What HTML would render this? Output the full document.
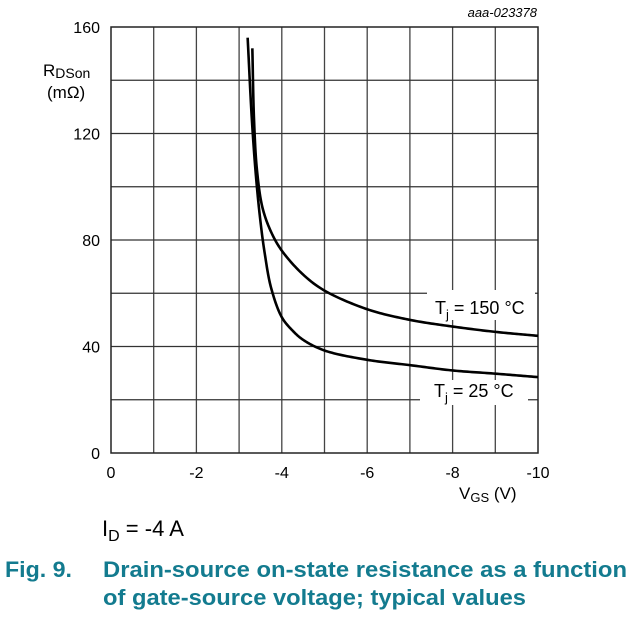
<!DOCTYPE html>
<html><head><meta charset="utf-8"><style>
body{margin:0;background:#fff;width:644px;height:616px;overflow:hidden;font-family:"Liberation Sans",sans-serif}
</style></head><body>
<svg width="644" height="616" font-family="Liberation Sans, sans-serif">
<g id="grid"></g>
<rect x="111" y="27" width="427" height="426" fill="none" stroke="#222" stroke-width="1.5"/>
<g id="ticks"></g>
<rect x="427" y="290" width="108" height="30" fill="#fff"/>
<rect x="420" y="380" width="108" height="25" fill="#fff"/>
<g id="curves"></g>
<text x="435" y="314" font-size="18">T<tspan font-size="13" dy="5">j</tspan><tspan dy="-5"> = 150 °C</tspan></text>
<text x="434" y="397" font-size="18">T<tspan font-size="13" dy="5">j</tspan><tspan dy="-5"> = 25 °C</tspan></text>
<text x="537" y="17" font-size="13" font-style="italic" text-anchor="end">aaa-023378</text>
<text x="43" y="76" font-size="17">R<tspan font-size="14" dy="2">DSon</tspan></text>
<text x="47" y="98" font-size="17">(mΩ)</text>
<text x="459" y="499" font-size="17">V<tspan font-size="13" dy="3">GS</tspan><tspan dy="-3"> (V)</tspan></text>
<text x="102" y="536" font-size="22">I<tspan font-size="16" dy="5">D</tspan><tspan dy="-5"> = -4 A</tspan></text>
<text x="5" y="577" font-size="22" font-weight="bold" fill="#137b8f" textLength="67" lengthAdjust="spacingAndGlyphs">Fig. 9.</text>
<text x="103" y="577" font-size="22" font-weight="bold" fill="#137b8f" textLength="524" lengthAdjust="spacingAndGlyphs">Drain-source on-state resistance as a function</text>
<text x="103" y="605" font-size="22" font-weight="bold" fill="#137b8f" textLength="423" lengthAdjust="spacingAndGlyphs">of gate-source voltage; typical values</text>
</svg>
<script>
const xTicks=[0,-2,-4,-6,-8,-10];
const yTicks=[0,40,80,120,160];
const v150=[-3.31,-3.35,-3.42,-3.55,-3.75,-4,-4.5,-5,-6,-7,-8,-9,-10];
const r150=[152,125,106,92,83,76,67,61,54,50,47.5,45.5,44];
const v25=[-3.2,-3.3,-3.4,-3.5,-3.6,-3.75,-4,-4.25,-4.5,-5,-6,-7,-8,-9,-10];
const r25=[156,125,103,87,75,62,51,46,42.5,38.5,35,33,31,29.8,28.5];
const X0=111,X1=538,Y0=453,Y1=27;
const xs=v=>X0+(v/-10)*(X1-X0);
const ys=r=>Y0-(r/160)*(Y0-Y1);
const NS='http://www.w3.org/2000/svg';
const grid=document.getElementById('grid'),ticks=document.getElementById('ticks'),curves=document.getElementById('curves');
for(let i=1;i<10;i++){const l=document.createElementNS(NS,'line');const x=xs(-i);
l.setAttribute('x1',x);l.setAttribute('x2',x);l.setAttribute('y1',Y1);l.setAttribute('y2',Y0);l.setAttribute('stroke','#444');l.setAttribute('stroke-width','1.3');


grid.appendChild(l);}
for(let i=1;i<8;i++){const l=document.createElementNS(NS,'line');const y=ys(i*20);
l.setAttribute('x1',X0);l.setAttribute('x2',X1);l.setAttribute('y1',y);l.setAttribute('y2',y);l.setAttribute('stroke','#333');l.setAttribute('stroke-width','1.3');


grid.appendChild(l);}
xTicks.forEach(v=>{const t=document.createElementNS(NS,'text');t.setAttribute('x',xs(v));t.setAttribute('y',478);t.setAttribute('font-size','16');t.setAttribute('text-anchor','middle');t.textContent=v;


ticks.appendChild(t);});
yTicks.forEach(v=>{const t=document.createElementNS(NS,'text');t.setAttribute('x',100);t.setAttribute('y',ys(v)+6);t.setAttribute('font-size','16');t.setAttribute('text-anchor','end');t.textContent=v;


ticks.appendChild(t);});
// centripetal Catmull-Rom sampled densely
function path(vs,rs){const p=vs.map((v,i)=>[xs(v),ys(rs[i])]);const out=[p[0]];
const tj=(a,b)=>Math.pow(Math.hypot(b[0]-a[0],b[1]-a[1]),0.5)||1e-6;
for(let i=0;i<p.length-1;i++){
 const P0=i>0?p[i-1]:[2*p[0][0]-p[1][0],2*p[0][1]-p[1][1]];
 const P1=p[i],P2=p[i+1];
 const P3=i+2<p.length?p[i+2]:[2*P2[0]-P1[0],2*P2[1]-P1[1]];
 const t0=0,t1=t0+tj(P0,P1),t2=t1+tj(P1,P2),t3=t2+tj(P2,P3);
 for(let k=1;k<=20;k++){const t=t1+(t2-t1)*k/20;
  const L=(A,B,ta,tb)=>[(tb-t)/(tb-ta)*A[0]+(t-ta)/(tb-ta)*B[0],(tb-t)/(tb-ta)*A[1]+(t-ta)/(tb-ta)*B[1]];
  const A1=L(P0,P1,t0,t1),A2=L(P1,P2,t1,t2),A3=L(P2,P3,t2,t3);
  const B1=L(A1,A2,t0,t2),B2=L(A2,A3,t1,t3);
  out.push(L(B1,B2,t1,t2));}
}
return 'M'+out.map(q=>q[0].toFixed(2)+','+q[1].toFixed(2)).join(' L');}
[[v150,r150,'curve-150c'],[v25,r25,'curve-25c']].forEach(s=>{const p=document.createElementNS(NS,'path');p.setAttribute('d',path(s[0],s[1]));p.setAttribute('fill','none');p.setAttribute('stroke','#000');p.setAttribute('stroke-width','2.6');p.setAttribute('stroke-linejoin','round');


curves.appendChild(p);});
</script>
</body></html>
